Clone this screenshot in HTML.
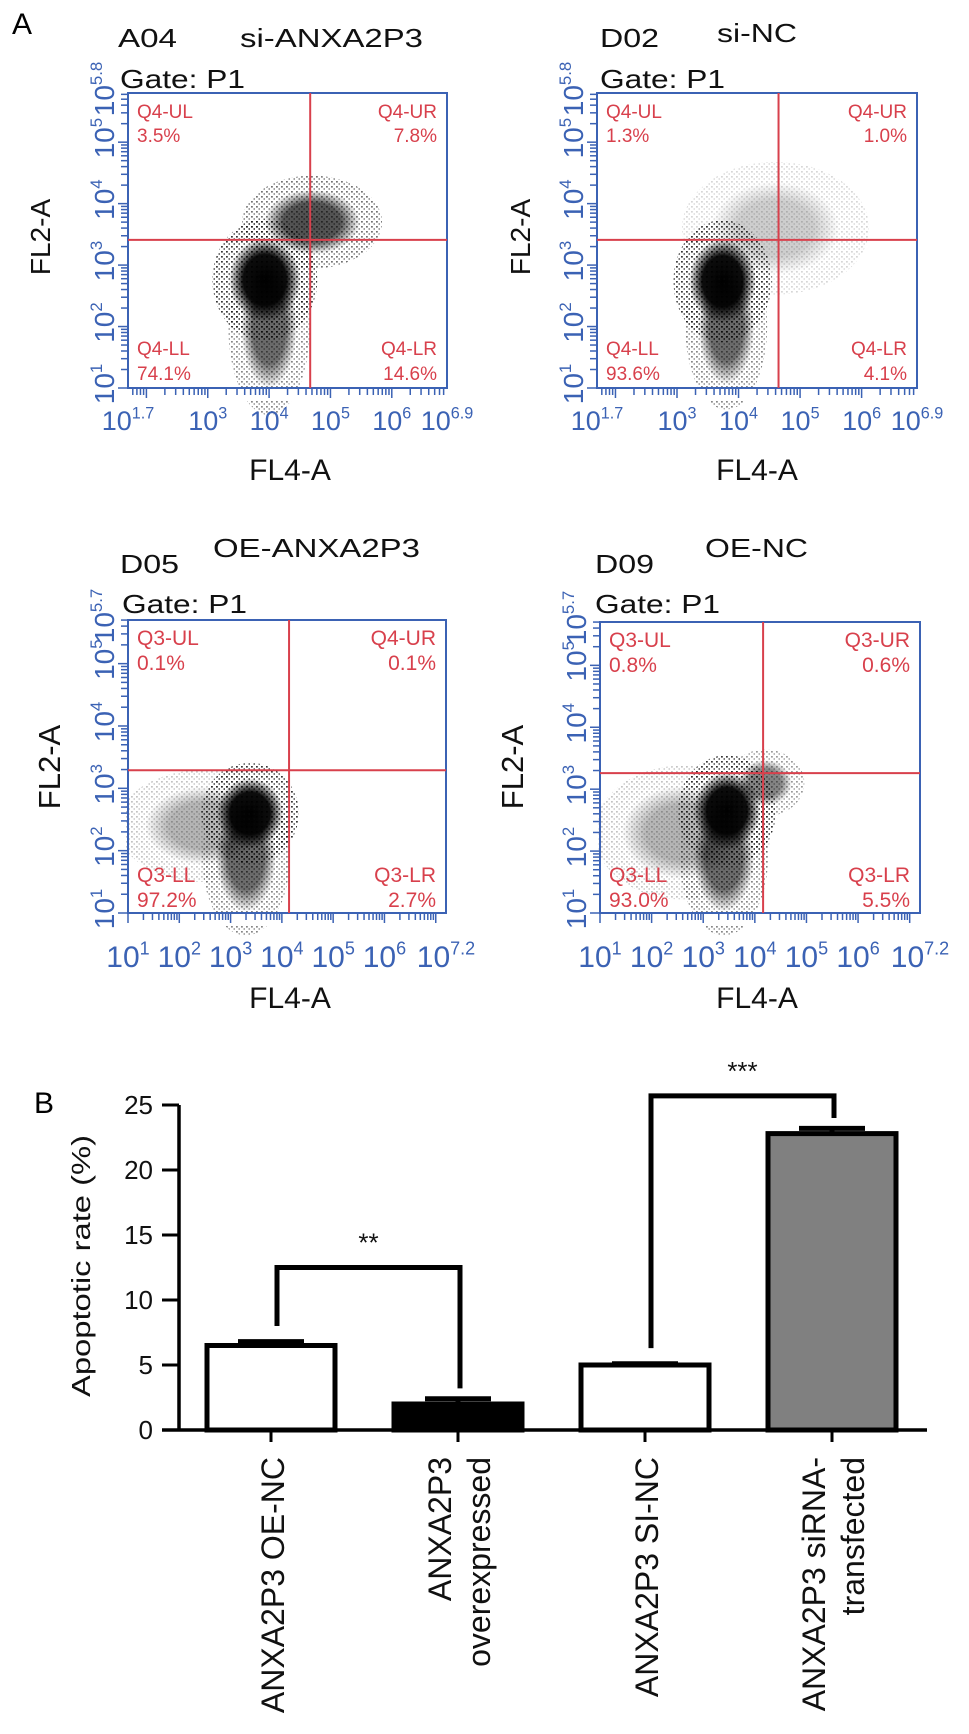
<!DOCTYPE html>
<html><head><meta charset="utf-8"><style>
html,body{margin:0;padding:0;background:#fff;}
svg{display:block;font-family:"Liberation Sans",Arial,sans-serif;}
</style></head><body>
<svg id="fig" width="969" height="1734" viewBox="0 0 969 1734" xmlns="http://www.w3.org/2000/svg">
<defs>
<radialGradient id="core"><stop offset="0" stop-color="#000" stop-opacity="1"/><stop offset="0.6" stop-color="#000" stop-opacity="0.95"/><stop offset="1" stop-color="#000" stop-opacity="0"/></radialGradient>
<pattern id="dots" width="5" height="5" patternUnits="userSpaceOnUse"><rect x="1" y="1" width="1.8" height="1.6" fill="#000"/><rect x="3.5" y="3.3" width="1.5" height="1.4" fill="#111"/></pattern>
</defs>
</svg>
<script>
// ---------- flow cytometry data ----------
const wellIds = ['A04','D02','D05','D09'];
const groupTitles = ['si-ANXA2P3','si-NC','OE-ANXA2P3','OE-NC'];
const quadNames = [['Q4-UL','Q4-UR','Q4-LL','Q4-LR'],['Q4-UL','Q4-UR','Q4-LL','Q4-LR'],['Q3-UL','Q4-UR','Q3-LL','Q3-LR'],['Q3-UL','Q3-UR','Q3-LL','Q3-LR']];
const quadPcts = [['3.5%','7.8%','74.1%','14.6%'],['1.3%','1.0%','93.6%','4.1%'],['0.1%','0.1%','97.2%','2.7%'],['0.8%','0.6%','93.0%','5.5%']];
const xRanges = [[1.7,6.9],[1.7,6.9],[1,7.2],[1,7.2]];
const yRanges = [[1,5.8],[1,5.8],[1,5.7],[1,5.7]];
const gateX = [4.67,4.65,4.14,4.16];
const gateY = [3.41,3.41,3.29,3.26];
// clusters: [logX, logY, spreadX, spreadY, density]
const clusters = [
 [[3.93,2.76,0.45,0.55,1],[4.0,2.0,0.35,0.8,0.6],[4.7,3.7,0.6,0.42,0.7]],
 [[3.74,2.74,0.42,0.55,1],[3.8,2.0,0.35,0.75,0.6],[4.6,3.6,0.8,0.6,0.2]],
 [[3.38,2.6,0.5,0.45,1],[3.3,1.9,0.45,0.7,0.6],[2.5,2.4,0.9,0.5,0.3]],
 [[3.46,2.65,0.5,0.5,1],[3.4,1.9,0.45,0.7,0.6],[4.2,3.1,0.4,0.3,0.5],[2.6,2.3,0.9,0.6,0.3]]
];
// ---------- bar chart data ----------
const categories = [['ANXA2P3 OE-NC'],['ANXA2P3','overexpressed'],['ANXA2P3 SI-NC'],['ANXA2P3 siRNA-','transfected']];
const rates = [6.5, 2.0, 5.0, 22.8];
const errs = [0.3, 0.4, 0.1, 0.4];
const yTicks = [0,5,10,15,20,25];
const sigPairs = [[0,1],[2,3]];
const sigLevels = [12.5, 25.7];
const sigLabels = ['**','***'];

const NS='http://www.w3.org/2000/svg';
const svg=document.getElementById('fig');
const BLUE='#3b62b4', RED='#d8404c';
function mk(tag,attrs,parent,name,inter){
  const el=document.createElementNS(NS,tag);
  for(const k in attrs) el.setAttribute(k,attrs[k]);
  
  
  (parent||svg).appendChild(el);
  return el;
}
function text(x,y,s,size,fill,name,extra,parent){
  const a=Object.assign({x:x,y:y,'font-size':size,fill:fill},extra||{});
  const t=mk('text',a,parent,name,false);
  t.textContent=s; return t;
}
function pow(x,y,exp,size,fill,name,anchor,transform,parent){
  const a={x:x,y:y,'font-size':size,fill:fill,'text-anchor':anchor};
  if(transform)a.transform=transform;
  const t=mk('text',a,parent,name,false);
  const b=document.createElementNS(NS,'tspan'); b.textContent='10'; t.appendChild(b);
  const e=document.createElementNS(NS,'tspan'); e.setAttribute('dy',-size*0.42); e.setAttribute('font-size',size*0.6); e.textContent=exp; t.appendChild(e);
  return t;
}

text(12,34,'A',30,'#000','panel-a-label');
text(34,1113,'B',30,'#000','panel-b-label');

const boxes=[[128,93,447,388],[597,93,917,388],[128,620,446,913],[600,622,920,913]];
const wellX=[118,600,120,595], titleX=[240,717,213,705], titleW=[183,80,207,103];
const topRow=[true,true,false,false];

for(let p=0;p<4;p++){
  const g=mk('g',{},svg,'flow-panel-'+wellIds[p].toLowerCase(),false);
  const [L,T,R,B]=boxes[p]; const xr=xRanges[p], yr=yRanges[p];
  const sx=v=>L+(v-xr[0])/(xr[1]-xr[0])*(R-L);
  const sy=v=>B-(v-yr[0])/(yr[1]-yr[0])*(B-T);
  const top=topRow[p];
  const wy = top?47:573, ty= top?(p==1?42:47):557, gy= top?88:613;
  text(wellX[p],wy,wellIds[p],26,'#111','well-id',{textLength:59,lengthAdjust:'spacingAndGlyphs'},g);
  text(titleX[p],ty,groupTitles[p],26,'#111','group-title',{textLength:titleW[p],lengthAdjust:'spacingAndGlyphs'},g);
  text(wellX[p]+(p==1||p==3?0:2),gy,'Gate: P1',26,'#111','gate-label',{textLength:125,lengthAdjust:'spacingAndGlyphs'},g);
  const cg=mk('g',{},g,'scatter-cloud',false);
  clusters[p].forEach(c=>{
    const pxs=(R-L)/(xr[1]-xr[0]), pys=(B-T)/(yr[1]-yr[0]);
    mk('ellipse',{cx:sx(c[0]),cy:Math.min(sy(c[1]),B-2),rx:c[2]*pxs*1.9,ry:c[3]*pys*1.8,fill:'url(#dots)',opacity:c[4]*0.8},cg,'scatter-halo',false);
    mk('ellipse',{cx:sx(c[0]),cy:sy(c[1]),rx:c[2]*pxs*1.3,ry:c[3]*pys*1.25,fill:'url(#core)',opacity:c[4]},cg,'scatter-core',false);
  });
  mk('rect',{x:L-2,y:B+1,width:R-L+4,height:12,fill:'#fff'},g,'mask',false);
  mk('rect',{x:L-60,y:T-5,width:58,height:B-T+10,fill:'#fff'},g,'mask',false);
  mk('rect',{x:L,y:T,width:R-L,height:B-T,fill:'none',stroke:BLUE,'stroke-width':2},g,'plot-frame',false);
  mk('line',{x1:sx(gateX[p]),y1:T,x2:sx(gateX[p]),y2:B,stroke:RED,'stroke-width':2},g,'gate-vertical',true);
  mk('line',{x1:L,y1:sy(gateY[p]),x2:R,y2:sy(gateY[p]),stroke:RED,'stroke-width':2},g,'gate-horizontal',true);
  for(let d=Math.floor(xr[0]);d<=Math.ceil(xr[1]);d++)for(let k=1;k<10;k++){const v=d+Math.log10(k); if(v<xr[0]||v>xr[1])continue;
    mk('line',{x1:sx(v),y1:B,x2:sx(v),y2:B+(k==1?10:7),stroke:BLUE,'stroke-width':1.5},g,'x-tick',false);}
  for(let d=Math.floor(yr[0]);d<=Math.ceil(yr[1]);d++)for(let k=1;k<10;k++){const v=d+Math.log10(k); if(v<yr[0]||v>yr[1])continue;
    mk('line',{x1:L-(k==1?10:7),y1:sy(v),x2:L,y2:sy(v),stroke:BLUE,'stroke-width':1.5},g,'y-tick',false);}
  const xs=[xr[0]]; for(let d=Math.ceil(xr[0]+0.01);d<=xr[1]-0.5;d++)xs.push(d); xs.push(xr[1]);
  if(top)xs.splice(1,1);
  const fs=top?27:30, by=top?B+42:B+54;
  xs.forEach(v=>pow(sx(v),by,String(v),fs,BLUE,'x-tick-label','middle',null,g));
  const ys=[yr[0]]; for(let d=Math.ceil(yr[0]+0.01);d<=yr[1]-0.5;d++)ys.push(d); ys.push(yr[1]);
  ys.forEach(v=>{const x=L-14,y=sy(v)-4; pow(x,y,String(v),28,BLUE,'y-tick-label','middle','rotate(-90 '+x+' '+y+')',g);});
  const fy=top?237:767, fx=(p%2==0?(top?50:60):(top?530:523));
  text(fx,fy,'FL2-A',top?28:31,'#111','y-axis-title',{'text-anchor':'middle',transform:'rotate(-90 '+fx+' '+fy+')'},g);
  text(p%2==0?290:757, top?480:1008,'FL4-A',30,'#111','x-axis-title',{'text-anchor':'middle'},g);
  const qt=top?19:21;
  const qy=top?[T+25,T+49,B-33,B-8]:[T+25,T+50,B-31,B-6];
  text(L+9,qy[0],quadNames[p][0],qt,RED,'quadrant-ul-name',{},g);
  text(L+9,qy[1],quadPcts[p][0],qt,RED,'quadrant-ul-percent',{},g);
  text(R-10,qy[0],quadNames[p][1],qt,RED,'quadrant-ur-name',{'text-anchor':'end'},g);
  text(R-10,qy[1],quadPcts[p][1],qt,RED,'quadrant-ur-percent',{'text-anchor':'end'},g);
  text(L+9,qy[2],quadNames[p][2],qt,RED,'quadrant-ll-name',{},g);
  text(L+9,qy[3],quadPcts[p][2],qt,RED,'quadrant-ll-percent',{},g);
  text(R-10,qy[2],quadNames[p][3],qt,RED,'quadrant-lr-name',{'text-anchor':'end'},g);
  text(R-10,qy[3],quadPcts[p][3],qt,RED,'quadrant-lr-percent',{'text-anchor':'end'},g);
}

// ---------- bar chart ----------
const bc=mk('g',{},svg,'bar-chart',false);
const Y0=1430, PXU=13, AX=179;
const yv=v=>Y0-v*PXU;
const xc=i=>AX+92+i*187;
const BW=128;
const barFill=['#fff','#000','#fff','#808080'];
categories.forEach((c,i)=>{
  const top=yv(rates[i]);
  mk('line',{x1:xc(i),y1:top,x2:xc(i),y2:yv(rates[i]+errs[i]),stroke:'#000','stroke-width':5},bc,'error-bar',false);
  mk('line',{x1:xc(i)-33,y1:yv(rates[i]+errs[i]),x2:xc(i)+33,y2:yv(rates[i]+errs[i]),stroke:'#000','stroke-width':5},bc,'error-cap',false);
  mk('rect',{x:xc(i)-BW/2,y:top,width:BW,height:Y0-top,fill:barFill[i],stroke:'#000','stroke-width':5},bc,'bar-'+i,true);
  mk('line',{x1:xc(i),y1:Y0,x2:xc(i),y2:Y0+12,stroke:'#000','stroke-width':3},bc,'x-tick',false);
  const offs=c.length==1?[13]:[-7,32];
  c.forEach((s,j)=>{const x=xc(i)+offs[j], y=1457;
    text(x,y,s,32,'#111','category-label',{'text-anchor':'end',transform:'rotate(-90 '+x+' '+y+')'},bc);});
});
mk('line',{x1:AX,y1:yv(25),x2:AX,y2:Y0,stroke:'#000','stroke-width':3.5},bc,'y-axis',false);
mk('line',{x1:162,y1:Y0,x2:927,y2:Y0,stroke:'#000','stroke-width':3.5},bc,'x-axis',false);
yTicks.forEach(v=>{
  mk('line',{x1:162,y1:yv(v),x2:AX,y2:yv(v),stroke:'#000','stroke-width':3},bc,'y-tick',false);
  text(153,yv(v)+9,String(v),26,'#111','y-tick-label',{'text-anchor':'end'},bc);
});
text(90,1266,'Apoptotic rate (%)',26,'#111','y-axis-title',{'text-anchor':'middle',textLength:262,lengthAdjust:'spacingAndGlyphs',transform:'rotate(-90 90 1266)'},bc);
sigPairs.forEach((pr,k)=>{
  const a=pr[0], b=pr[1], xa=xc(a)+6, xb=xc(b)+2, yl=yv(sigLevels[k]);
  const la=yv(rates[a]+errs[a]+1.2), lb=yv(rates[b]+errs[b]+0.8);
  mk('polyline',{points:xa+','+la+' '+xa+','+yl+' '+xb+','+yl+' '+xb+','+lb,fill:'none',stroke:'#000','stroke-width':5},bc,'significance-bracket',false);
  text((xa+xb)/2,yl-16,sigLabels[k],26,'#111','significance-label',{'text-anchor':'middle'},bc);
});
</script>
</body></html>
